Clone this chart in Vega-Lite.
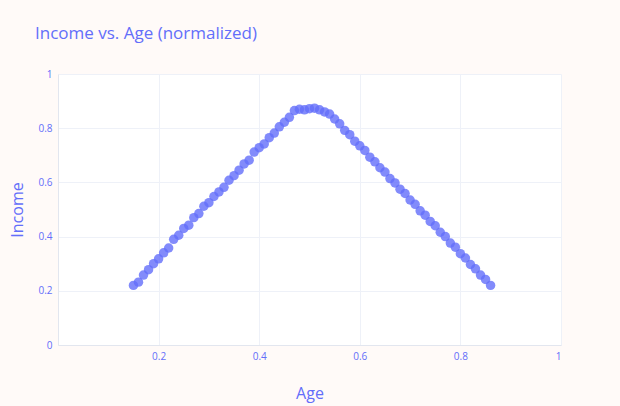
{
  "$schema": "https://vega.github.io/schema/vega-lite/v6.json",
  "autosize": "none",
  "width": 503,
  "height": 271,
  "padding": {"left": 58, "top": 74, "right": 59, "bottom": 61},
  "background": "#fffaf8",
  "title": {
    "text": "Income vs. Age (normalized)",
    "anchor": "start",
    "frame": "group",
    "dx": -23,
    "offset": 26,
    "font": "Open Sans",
    "fontSize": 17,
    "fontWeight": "normal",
    "color": "#636efa"
  },
  "data": {
    "values": [
      {"Age": 0.15, "Income": 0.220}, {"Age": 0.16, "Income": 0.232}, {"Age": 0.17, "Income": 0.258},
      {"Age": 0.18, "Income": 0.278}, {"Age": 0.19, "Income": 0.300}, {"Age": 0.20, "Income": 0.318},
      {"Age": 0.21, "Income": 0.340}, {"Age": 0.22, "Income": 0.358}, {"Age": 0.23, "Income": 0.390},
      {"Age": 0.24, "Income": 0.405}, {"Age": 0.25, "Income": 0.430}, {"Age": 0.26, "Income": 0.442},
      {"Age": 0.27, "Income": 0.470}, {"Age": 0.28, "Income": 0.485}, {"Age": 0.29, "Income": 0.512},
      {"Age": 0.30, "Income": 0.525}, {"Age": 0.31, "Income": 0.548}, {"Age": 0.32, "Income": 0.565},
      {"Age": 0.33, "Income": 0.582}, {"Age": 0.34, "Income": 0.608}, {"Age": 0.35, "Income": 0.625},
      {"Age": 0.36, "Income": 0.645}, {"Age": 0.37, "Income": 0.668}, {"Age": 0.38, "Income": 0.682},
      {"Age": 0.39, "Income": 0.712}, {"Age": 0.40, "Income": 0.728}, {"Age": 0.41, "Income": 0.742},
      {"Age": 0.42, "Income": 0.765}, {"Age": 0.43, "Income": 0.782}, {"Age": 0.44, "Income": 0.805},
      {"Age": 0.45, "Income": 0.822}, {"Age": 0.46, "Income": 0.840}, {"Age": 0.47, "Income": 0.865},
      {"Age": 0.48, "Income": 0.870}, {"Age": 0.49, "Income": 0.868}, {"Age": 0.50, "Income": 0.872},
      {"Age": 0.51, "Income": 0.874}, {"Age": 0.52, "Income": 0.868}, {"Age": 0.53, "Income": 0.860},
      {"Age": 0.54, "Income": 0.852}, {"Age": 0.55, "Income": 0.834}, {"Age": 0.56, "Income": 0.816},
      {"Age": 0.57, "Income": 0.792}, {"Age": 0.58, "Income": 0.776}, {"Age": 0.59, "Income": 0.752},
      {"Age": 0.60, "Income": 0.735}, {"Age": 0.61, "Income": 0.718}, {"Age": 0.62, "Income": 0.693},
      {"Age": 0.63, "Income": 0.676}, {"Age": 0.64, "Income": 0.654}, {"Age": 0.65, "Income": 0.638},
      {"Age": 0.66, "Income": 0.614}, {"Age": 0.67, "Income": 0.598}, {"Age": 0.68, "Income": 0.575},
      {"Age": 0.69, "Income": 0.559}, {"Age": 0.70, "Income": 0.535}, {"Age": 0.71, "Income": 0.519},
      {"Age": 0.72, "Income": 0.495}, {"Age": 0.73, "Income": 0.479}, {"Age": 0.74, "Income": 0.456},
      {"Age": 0.75, "Income": 0.440}, {"Age": 0.76, "Income": 0.416}, {"Age": 0.77, "Income": 0.400},
      {"Age": 0.78, "Income": 0.376}, {"Age": 0.79, "Income": 0.361}, {"Age": 0.80, "Income": 0.337},
      {"Age": 0.81, "Income": 0.321}, {"Age": 0.82, "Income": 0.297}, {"Age": 0.83, "Income": 0.281},
      {"Age": 0.84, "Income": 0.258}, {"Age": 0.85, "Income": 0.242}, {"Age": 0.86, "Income": 0.220}
    ]
  },
  "mark": {"type": "circle", "size": 90, "color": "#636efa", "opacity": 0.8},
  "encoding": {
    "x": {
      "field": "Age",
      "type": "quantitative",
      "scale": {"domain": [0, 1], "nice": false},
      "axis": {
        "values": [0, 0.2, 0.4, 0.6, 0.8, 1],
        "labelExpr": "datum.value == 0 ? '' : datum.label",
        "format": "~g",
        "title": "Age",
        "titlePadding": 24
      }
    },
    "y": {
      "field": "Income",
      "type": "quantitative",
      "scale": {"domain": [0, 1], "nice": false},
      "axis": {
        "values": [0, 0.2, 0.4, 0.6, 0.8, 1],
        "format": "~g",
        "title": "Income",
        "titlePadding": 12
      }
    }
  },
  "config": {
    "view": {"fill": "white", "stroke": null},
    "font": "Open Sans",
    "axis": {
      "domainColor": "#e2e6ef",
      "gridColor": "#eef1f8",
      "ticks": false,
      "labelPadding": 6,
      "labelColor": "#636efa",
      "labelFontSize": 10,
      "labelFont": "Open Sans",
      "titleColor": "#636efa",
      "titleFont": "Open Sans",
      "titleFontSize": 16,
      "titleFontWeight": "normal"
    }
  }
}
